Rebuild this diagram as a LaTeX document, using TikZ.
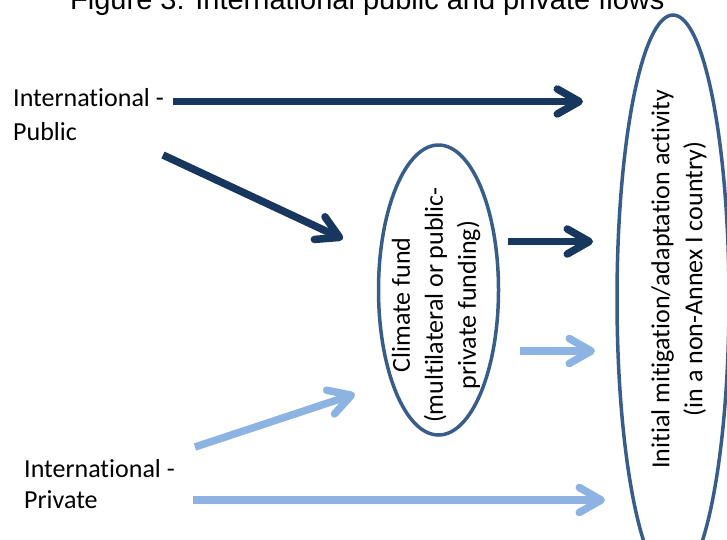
\documentclass[tikz,border=0pt]{standalone}
\usepackage{fontspec}
\setmainfont[Ligatures=NoCommon]{Carlito}
\newfontfamily\titlefont{Liberation Sans}
\usetikzlibrary{arrows.meta,shapes.geometric}

\definecolor{darkflow}{HTML}{17375E}
\definecolor{lightflow}{HTML}{8DB3E2}
\definecolor{rimblue}{HTML}{385D8A}

\tikzset{
  flow/.style={line width=7.5pt, -{Straight Barb[round,length=22pt,width=25pt]}},
  pubflow/.style={flow, draw=darkflow},
  privflow/.style={flow, draw=lightflow},
  body/.style={font=\fontsize{26}{33}\selectfont, inner sep=0pt},
  blob/.style={ellipse, draw=rimblue, line width=3.5pt, inner sep=0pt}
}

\begin{document}
\begin{tikzpicture}[x=1pt, y=-1pt]
    \useasboundingbox (0,0) rectangle (727,539);

    % Title (cut at the top)
    \node[font=\titlefont\fontsize{29}{29}\selectfont, anchor=base west, inner sep=0pt] (title) at (70,9) {Figure 3: International public and private flows};

    % Sources
    \node[body, align=left, anchor=base west, font=\fontsize{26}{34}\selectfont] (pub) at (13,140) {International -\\Public};
    \node[body, align=left, anchor=base west, font=\fontsize{26}{31}\selectfont] (priv) at (24,508) {International -\\Private};

    % Climate fund
    \node[blob, minimum width=120pt, minimum height=290pt] (fund) at (438.5,290) {};
    \node[body, align=center, rotate=90] (fundtext) at (436,305) {Climate fund\\(multilateral or public-\\private funding)};

    % Activity
    \node[blob, minimum width=112pt, minimum height=568pt] (act) at (673,299) {};
    \node[body, align=center, rotate=90] (acttext) at (679,279) {Initial mitigation/adaptation activity\\(in a non-Annex I country)};

    % Arrow ends
    \coordinate (pubA) at (173,101.5);
    \coordinate (pubAend) at (583,101.5);
    \coordinate (pubB) at (163,155);
    \coordinate (pubBend) at (343,239);
    \coordinate (fundA) at (508,241.5);
    \coordinate (fundAend) at (593,241.5);
    \coordinate (fundB) at (520,351);
    \coordinate (fundBend) at (595,351);
    \coordinate (privA) at (195,447);
    \coordinate (privAend) at (355,394);
    \coordinate (privB) at (193,500);
    \coordinate (privBend) at (605,500);

    % Public flows
    \draw[pubflow] (pubA) -- (pubAend);
    \draw[pubflow] (pubB) -- (pubBend);
    \draw[pubflow] (fundA) -- (fundAend);

    % Private flows
    \draw[privflow] (fundB) -- (fundBend);
    \draw[privflow] (privA) -- (privAend);
    \draw[privflow] (privB) -- (privBend);
\end{tikzpicture}
\end{document}
